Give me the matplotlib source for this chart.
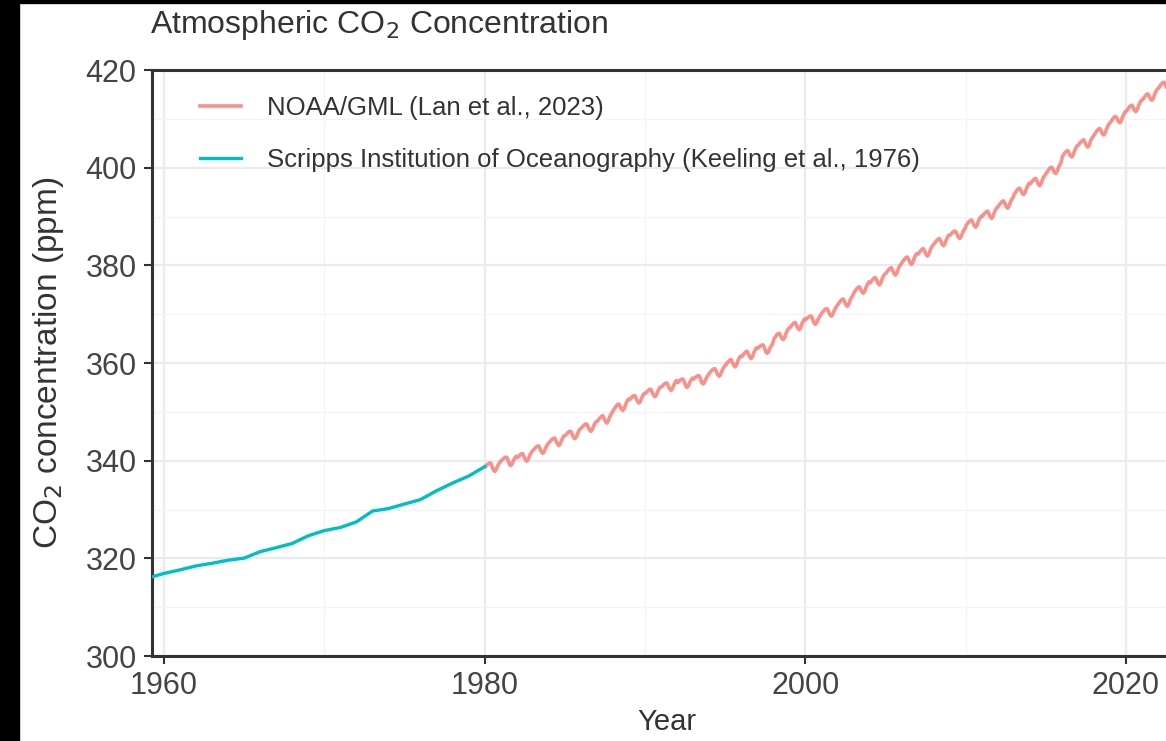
import matplotlib
matplotlib.use("Agg")
import matplotlib.pyplot as plt
from matplotlib.patches import Rectangle

plt.rcParams['font.family'] = ['Liberation Sans', 'DejaVu Sans']

# Scripps Institution of Oceanography annual means (ppm)
scripps_years = list(range(1959, 1981))
scripps_ppm = [315.98, 316.91, 317.64, 318.45, 318.99, 319.62, 320.04, 321.37,
               322.18, 323.05, 324.62, 325.68, 326.32, 327.46, 329.68, 330.19,
               331.12, 332.03, 333.84, 335.41, 336.84, 338.76]

# NOAA/GML global monthly means (ppm), one row per year, Jan..Dec
noaa_years = list(range(1980, 2024))
noaa_monthly = [
    [338.8, 339.1, 339.3, 339.5, 339.5, 338.9, 338.1, 337.8, 338.1, 338.8, 339.3, 339.7],
    [340.0, 340.3, 340.5, 340.7, 340.7, 340.1, 339.3, 339.0, 339.3, 340.0, 340.5, 340.9],
    [340.6, 340.9, 341.2, 341.4, 341.4, 340.8, 340.2, 339.9, 340.2, 340.9, 341.5, 341.9],
    [342.2, 342.5, 342.8, 343.0, 343.0, 342.4, 341.8, 341.5, 341.8, 342.5, 343.1, 343.5],
    [343.8, 344.1, 344.4, 344.6, 344.6, 344.0, 343.4, 343.1, 343.4, 344.1, 344.7, 345.1],
    [345.2, 345.5, 345.8, 346.0, 346.0, 345.4, 344.8, 344.5, 344.8, 345.5, 346.1, 346.5],
    [346.7, 347.0, 347.3, 347.5, 347.5, 346.9, 346.3, 346.0, 346.3, 347.0, 347.6, 348.0],
    [348.1, 348.5, 348.8, 349.1, 349.2, 348.6, 348.0, 347.7, 348.1, 348.9, 349.5, 349.9],
    [350.4, 350.8, 351.2, 351.5, 351.6, 351.1, 350.5, 350.3, 350.7, 351.5, 352.1, 352.6],
    [352.5, 352.8, 353.1, 353.3, 353.3, 352.7, 352.1, 351.8, 352.1, 352.8, 353.4, 353.8],
    [353.8, 354.1, 354.4, 354.6, 354.6, 354.0, 353.4, 353.1, 353.4, 354.1, 354.7, 355.1],
    [355.1, 355.4, 355.7, 355.9, 355.9, 355.3, 354.7, 354.4, 354.7, 355.4, 356.0, 356.4],
    [356.0, 356.3, 356.5, 356.7, 356.7, 356.1, 355.3, 355.0, 355.3, 356.0, 356.5, 356.9],
    [356.7, 357.0, 357.2, 357.4, 357.4, 356.8, 356.0, 355.7, 356.0, 356.7, 357.2, 357.6],
    [358.0, 358.3, 358.6, 358.8, 358.8, 358.2, 357.6, 357.3, 357.6, 358.3, 358.9, 359.3],
    [359.6, 360.0, 360.3, 360.6, 360.7, 360.1, 359.5, 359.2, 359.6, 360.4, 361.0, 361.4],
    [361.3, 361.7, 362.0, 362.3, 362.4, 361.8, 361.2, 360.9, 361.3, 362.1, 362.7, 363.1],
    [363.0, 363.3, 363.5, 363.7, 363.7, 363.1, 362.3, 362.0, 362.3, 363.0, 363.5, 363.9],
    [364.9, 365.3, 365.7, 366.0, 366.1, 365.6, 365.0, 364.8, 365.2, 366.0, 366.6, 367.1],
    [367.2, 367.6, 367.9, 368.2, 368.3, 367.7, 367.1, 366.8, 367.2, 368.0, 368.6, 369.0],
    [368.9, 369.2, 369.4, 369.6, 369.6, 369.0, 368.2, 367.9, 368.2, 368.9, 369.4, 369.8],
    [370.3, 370.6, 370.9, 371.1, 371.1, 370.5, 369.9, 369.6, 369.9, 370.6, 371.2, 371.6],
    [372.0, 372.4, 372.7, 373.0, 373.1, 372.5, 371.9, 371.6, 372.0, 372.8, 373.4, 373.8],
    [374.4, 374.8, 375.2, 375.5, 375.6, 375.1, 374.5, 374.3, 374.7, 375.5, 376.1, 376.6],
    [376.4, 376.8, 377.1, 377.4, 377.5, 376.9, 376.3, 376.0, 376.4, 377.2, 377.8, 378.2],
    [378.4, 378.8, 379.1, 379.4, 379.5, 378.9, 378.3, 378.0, 378.4, 379.2, 379.8, 380.2],
    [380.6, 381.0, 381.3, 381.6, 381.7, 381.1, 380.5, 380.2, 380.6, 381.4, 382.0, 382.4],
    [382.3, 382.7, 383.0, 383.3, 383.4, 382.8, 382.2, 381.9, 382.3, 383.1, 383.7, 384.1],
    [384.4, 384.8, 385.1, 385.4, 385.5, 384.9, 384.3, 384.0, 384.4, 385.2, 385.8, 386.2],
    [386.2, 386.5, 386.8, 387.0, 387.0, 386.4, 385.8, 385.5, 385.8, 386.5, 387.1, 387.5],
    [388.2, 388.6, 388.9, 389.2, 389.3, 388.7, 388.1, 387.8, 388.2, 389.0, 389.6, 390.0],
    [390.0, 390.4, 390.7, 391.0, 391.1, 390.5, 389.9, 389.6, 390.0, 390.8, 391.4, 391.8],
    [392.1, 392.5, 392.8, 393.1, 393.2, 392.6, 392.0, 391.7, 392.1, 392.9, 393.5, 393.9],
    [394.6, 395.0, 395.4, 395.7, 395.8, 395.3, 394.7, 394.5, 394.9, 395.7, 396.3, 396.8],
    [396.7, 397.1, 397.4, 397.7, 397.8, 397.2, 396.6, 396.3, 396.7, 397.5, 398.1, 398.5],
    [398.9, 399.3, 399.7, 400.0, 400.1, 399.6, 399.0, 398.8, 399.2, 400.0, 400.6, 401.1],
    [402.3, 402.7, 403.1, 403.4, 403.5, 403.0, 402.4, 402.2, 402.6, 403.4, 404.0, 404.5],
    [404.6, 405.0, 405.3, 405.6, 405.7, 405.1, 404.5, 404.2, 404.6, 405.4, 406.0, 406.4],
    [406.8, 407.2, 407.6, 407.9, 408.0, 407.5, 406.9, 406.7, 407.1, 407.9, 408.5, 409.0],
    [409.3, 409.7, 410.1, 410.4, 410.5, 410.0, 409.4, 409.2, 409.6, 410.4, 411.0, 411.5],
    [411.6, 412.0, 412.4, 412.7, 412.8, 412.3, 411.7, 411.5, 411.9, 412.7, 413.3, 413.8],
    [413.9, 414.3, 414.7, 415.0, 415.1, 414.6, 414.0, 413.8, 414.2, 415.0, 415.6, 416.1],
    [416.3, 416.7, 417.1, 417.4, 417.5, 417.0, 416.4, 416.2, 416.6, 417.4, 418.0, 418.5],
    [418.5, 418.9, 419.3, 419.6, 419.7, 419.2, 418.6, 418.4, 418.8, 419.6, 420.2, 420.7],
]
month_fraction = [(m + 0.5) / 12 for m in range(12)]

x_ticks = [1960, 1980, 2000, 2020]
x_minor = [1970, 1990, 2010]
y_ticks = [300, 320, 340, 360, 380, 400, 420]
y_minor = [310, 330, 350, 370, 390, 410]

title = "Atmospheric CO$_2$ Concentration"
ylabel = "CO$_2$ concentration (ppm)"
xlabel = "Year"
label_noaa = "NOAA/GML (Lan et al., 2023)"
label_scripps = "Scripps Institution of Oceanography (Keeling et al., 1976)"

col_noaa = "#F8766D"
col_scripps = "#00BFC4"

noaa_x = [y + f for y in noaa_years for f in month_fraction]
noaa_y = [v for row in noaa_monthly for v in row]

fig = plt.figure(figsize=(11.66, 7.41), dpi=100)
ax = fig.add_axes([152 / 1166, 85 / 741, 1030 / 1166, 586 / 741])

ax.plot(noaa_x, noaa_y, color=col_noaa, lw=2.6, alpha=0.8, label=label_noaa, zorder=3)
ax.plot(scripps_years, scripps_ppm, color=col_scripps, lw=2.4, label=label_scripps, zorder=3)

ax.set_xlim(1959.25, 2023.5)
ax.set_ylim(300, 420)
ax.set_xticks(x_ticks)
ax.set_yticks(y_ticks)
ax.set_xticks(x_minor, minor=True)
ax.set_yticks(y_minor, minor=True)
ax.grid(which='major', color='#EBEBEB', lw=1.6, zorder=0)
ax.grid(which='minor', color='#F4F4F4', lw=0.9, zorder=0)
ax.tick_params(which='minor', length=0)
ax.tick_params(which='major', length=6, width=1.5, color='#333333',
               labelsize=22, labelcolor='#444444', pad=5)

for s in ['left', 'bottom', 'top']:
    ax.spines[s].set_color('#333333')
    ax.spines[s].set_linewidth(2.2)
ax.spines['right'].set_visible(False)

ax.set_xlabel(xlabel, fontsize=21, color='#333333', labelpad=5)
ax.set_ylabel(ylabel, fontsize=24, color='#333333', labelpad=14)
fig.text(150 / 1166, 1 - 33 / 741, title, fontsize=23, color='#333333',
         ha='left', va='baseline')

leg = ax.legend(loc='upper left', bbox_to_anchor=(0.024, 0.995), frameon=False,
                fontsize=18.5, handlelength=1.6, labelspacing=1.1, handletextpad=1.0)
for t in leg.get_texts():
    t.set_color('#333333')

# black borders present in the reference image
fig.patches.append(Rectangle((0, 0), 19 / 1166, 1, transform=fig.transFigure,
                             color='black', zorder=10))
fig.patches.append(Rectangle((0, 1 - 3 / 741), 1, 3 / 741, transform=fig.transFigure,
                             color='black', zorder=10))

fig.savefig("out.png", dpi=100, facecolor='white')
